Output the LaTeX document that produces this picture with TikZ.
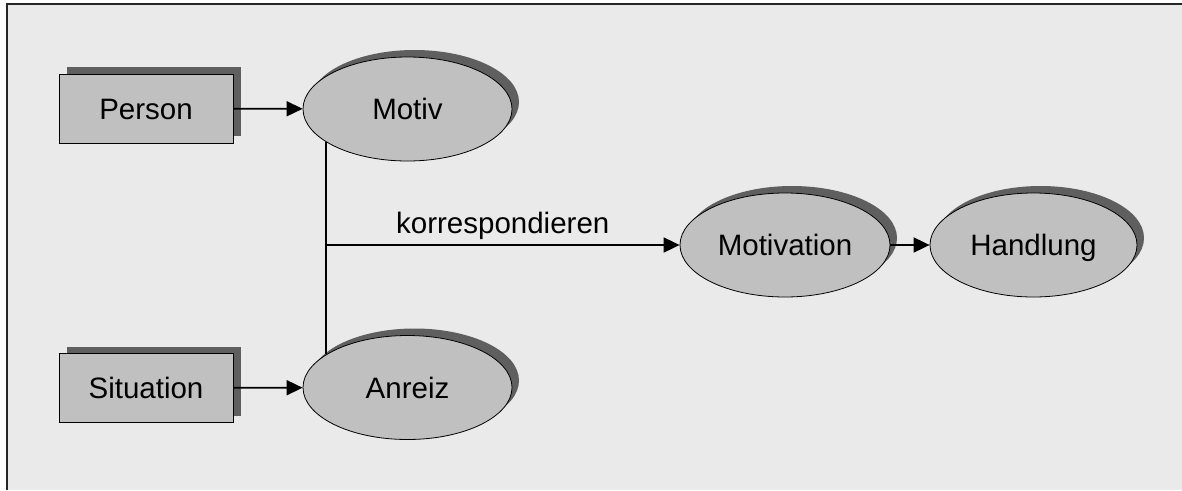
\documentclass[tikz,border=0pt]{standalone}
\usepackage{fontspec}
\setmainfont{Liberation Sans}
\usetikzlibrary{shapes.geometric,shadows,arrows.meta}
\definecolor{bgpanel}{HTML}{EAEAEA}
\definecolor{nodefill}{HTML}{C0C0C0}
\definecolor{shadowgray}{HTML}{5F5F5F}
\begin{document}
\begin{tikzpicture}[x=1pt,y=-1pt,
  every node/.style={font=\fontsize{29.5}{34}\selectfont},
  capcentred/.style={text height=21.1pt,text depth=0pt},
  boxnode/.style={capcentred,draw=black,line width=1pt,fill=nodefill,rectangle,
    minimum width=174pt,minimum height=69pt,inner sep=0pt,
    drop shadow={shadow xshift=8pt,shadow yshift=7pt,fill=shadowgray,opacity=1}},
  ovalnode/.style={capcentred,draw=black,line width=0.8pt,fill=nodefill,ellipse,inner sep=0pt,
    minimum height=104pt,
    drop shadow={shadow xshift=7pt,shadow yshift=7pt,fill=shadowgray,opacity=1}},
  link/.style={line width=1.8pt,draw=black},
  arrowlink/.style={link,-{Triangle[length=16pt,width=15pt]}}]
% panel and frame
\useasboundingbox (0,0) rectangle (1182,490);
\fill[white] (0,0) rectangle (1182,490);
\fill[bgpanel] (6,4) rectangle (1182,490);
\draw[line width=2pt,black!85] (6.5,490) -- (6.5,4) -- (1182,4);
% nodes
\node[boxnode] (person) at (146,108.5) {Person};
\node[boxnode] (situation) at (146,388) {Situation};
\node[ovalnode,minimum width=209pt] (motiv) at (407.5,109) {Motiv};
\node[ovalnode,minimum width=209pt] (anreiz) at (407.5,387.5) {Anreiz};
\node[ovalnode,minimum width=210pt] (motivation) at (785,245) {Motivation};
\node[ovalnode,minimum width=207pt] (handlung) at (1033.5,245) {Handlung};
% connectors
\draw[arrowlink] (person) -- (motiv);
\draw[arrowlink] (situation) -- (anreiz);
\coordinate (join) at (motiv.202.3 |- motivation.west);
\draw[link] (motiv.202.3) -- (motiv.202.3 |- anreiz.157.7);
\draw[arrowlink] (join) -- node[above=1pt] {korrespondieren} (motivation.west);
\draw[arrowlink] (motivation) -- (handlung);
\end{tikzpicture}
\end{document}
